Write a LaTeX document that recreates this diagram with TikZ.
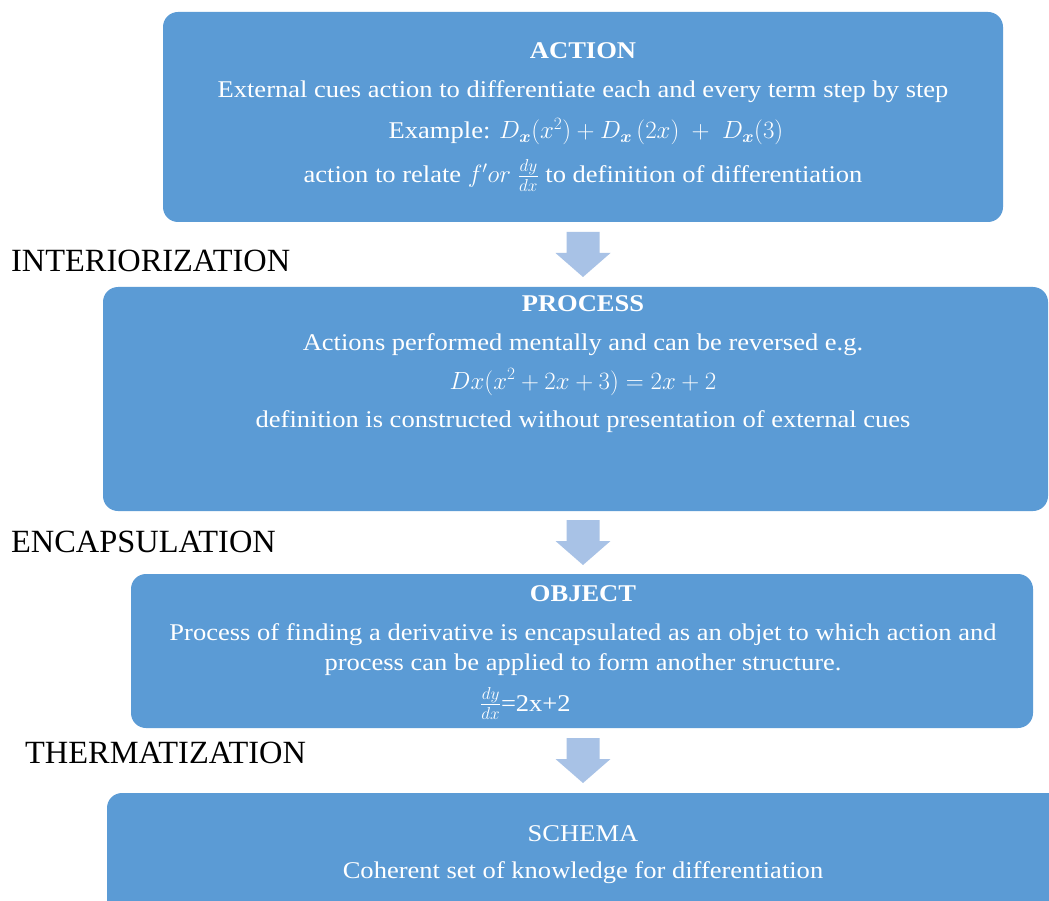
\documentclass[tikz,border=0pt]{standalone}
\usepackage{amsmath}
\usepackage{fontspec}
\setmainfont{Liberation Serif}
\newfontfamily\boxfont[FakeStretch=1.105]{Liberation Serif}
\definecolor{boxblue}{RGB}{91,155,213}
\definecolor{arrowblue}{RGB}{168,194,230}
\tikzset{
  stagebox/.style={fill=boxblue, draw=none, rounded corners=15pt, inner sep=0pt, outer sep=0pt},
  boxtxt/.style={text=white, inner sep=0pt, anchor=base, font=\boxfont\fontsize{24}{28}\selectfont},
  stagelab/.style={text=black, inner sep=0pt, anchor=base west, font=\fontsize{32.4}{36}\selectfont},
  darrow/.pic={\fill[arrowblue] (-16.5,0) -- (16.5,0) -- (16.5,21) -- (27.5,21) -- (0,45) -- (-27.5,21) -- (-16.5,21) -- cycle;}
}
\begin{document}
\begin{tikzpicture}[x=1pt,y=-1pt]
\useasboundingbox (0,0) rectangle (1049,901);
\clip (0,0) rectangle (1049,901);
\fill[white] (0,0) rectangle (1049,901);

% boxes
\node[stagebox, minimum width=840pt, minimum height=210pt] (action) at (583,117) {};
\node[stagebox, minimum width=945pt, minimum height=224pt] (process) at (575.5,399) {};
\node[stagebox, minimum width=902pt, minimum height=154pt] (object) at (582,651) {};
\node[stagebox, minimum width=960pt, minimum height=140pt] (schema) at (587,863) {};

% arrows
\pic (ar1) at (583,232) {darrow};
\pic (ar2) at (583,520) {darrow};
\pic (ar3) at (583,738) {darrow};

% stage labels
\node[stagelab] (interior) at (11,272) {INTERIORIZATION};
\node[stagelab] (encaps) at (11,552) {ENCAPSULATION};
\node[stagelab] (thermat) at (25,763) {THERMATIZATION};

% ACTION text
\node[boxtxt] (a1) at (583,59) {\bfseries ACTION};
\node[boxtxt] (a2) at (583,98) {External cues action to differentiate each and every term step by step};
\node[boxtxt] (a3) at (586,139) {Example: $D_{\boldsymbol{x}}(x^2)+D_{\boldsymbol{x}}\,(2x)\;+\;D_{\boldsymbol{x}}(3)$};
\node[boxtxt] (a4) at (583,183) {action to relate $f'or\;\frac{dy}{dx}$ to definition of differentiation};

% PROCESS text
\node[boxtxt] (p1) at (583,311) {\bfseries PROCESS};
\node[boxtxt] (p2) at (583,350) {Actions performed mentally and can be reversed e.g.};
\node[boxtxt] (p3) at (583,389) {$Dx(x^2+2x+3)=2x+2$};
\node[boxtxt] (p4) at (583,427) {definition is constructed without presentation of external cues};

% OBJECT text
\node[boxtxt] (o1) at (583,601) {\bfseries OBJECT};
\node[boxtxt] (o2) at (583,640) {Process of finding a derivative is encapsulated as an objet to which action and};
\node[boxtxt] (o3) at (583,670) {process can be applied to form another structure.};
\node[boxtxt, anchor=base west] (o4) at (480,711) {$\frac{dy}{dx}$=2x+2};

% SCHEMA text
\node[boxtxt] (s1) at (583,841) {SCHEMA};
\node[boxtxt] (s2) at (583,878) {Coherent set of knowledge for differentiation};
\end{tikzpicture}
\end{document}
